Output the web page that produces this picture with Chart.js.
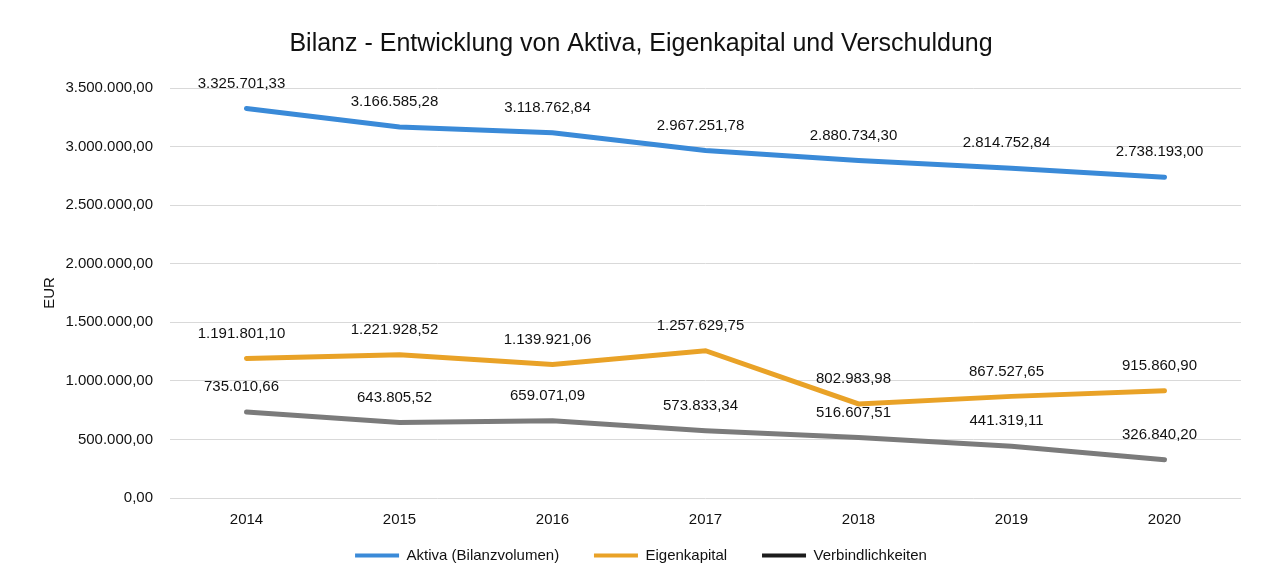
<!DOCTYPE html>
<html lang="de">
<head>
<meta charset="utf-8">
<script src="https://cdn.jsdelivr.net/npm/chart.js@4/dist/chart.umd.min.js"></script>
<style>
    html, body { margin: 0; padding: 0; background: #fff; }
    #wrap { width: 1267px; height: 586px; position: relative; }
</style>
</head>
<body>
<div id="wrap"><canvas id="bilanzChart"></canvas></div>
<script>
// Daten
const jahre = ['2014', '2015', '2016', '2017', '2018', '2019', '2020'];
const aktiva = [3325701.33, 3166585.28, 3118762.84, 2967251.78, 2880734.30, 2814752.84, 2738193.00];
const eigenkapital = [1191801.10, 1221928.52, 1139921.06, 1257629.75, 802983.98, 867527.65, 915860.90];
const verbindlichkeiten = [735010.66, 643805.52, 659071.09, 573833.34, 516607.51, 441319.11, 326840.20];

const schrift = '"Liberation Sans", Arial, sans-serif';
const fmt = v => v.toLocaleString('de-DE', { minimumFractionDigits: 2, maximumFractionDigits: 2 });

// Beschriftung der Datenpunkte
const wertePlugin = {
    id: 'werte',
    afterDatasetsDraw(chart) {
        const ctx = chart.ctx;
        ctx.save();
        ctx.font = '15px ' + schrift;
        ctx.fillStyle = '#111';
        ctx.textAlign = 'center';
        ctx.textBaseline = 'middle';
        chart.data.datasets.forEach((ds, i) => {
            chart.getDatasetMeta(i).data.forEach((pt, j) => {
                ctx.fillText(fmt(ds.data[j]), pt.x - 5, pt.y - 25);
            });
        });
        ctx.restore();
    }
};

const ctx = document.getElementById('bilanzChart');

new Chart(ctx, {
    type: 'line',
    data: {
        labels: jahre,
        datasets: [{
            label: 'Aktiva (Bilanzvolumen)',
            data: aktiva,
            borderColor: '#3a8ad8',
            backgroundColor: '#3a8ad8'
        }, {
            label: 'Eigenkapital',
            data: eigenkapital,
            borderColor: '#e9a227',
            backgroundColor: '#e9a227'
        }, {
            label: 'Verbindlichkeiten',
            data: verbindlichkeiten,
            borderColor: '#7b7b7b',
            backgroundColor: '#1c1c1c'
        }]
    },
    options: {
        responsive: true,
        maintainAspectRatio: false,
        animation: false,
        elements: {
            line: { borderWidth: 5, tension: 0, borderCapStyle: 'round' },
            point: { radius: 0, hoverRadius: 0 }
        },
        layout: { padding: { left: 41, right: 26, top: 0, bottom: 13 } },
        plugins: {
            title: {
                display: true,
                text: 'Bilanz - Entwicklung von Aktiva, Eigenkapital und Verschuldung',
                color: '#111',
                font: { size: 25, weight: 'normal', family: schrift },
                padding: { top: 29, bottom: 29 }
            },
            legend: {
                position: 'bottom',
                labels: {
                    color: '#111',
                    boxWidth: 44,
                    boxHeight: 4,
                    padding: 14,
                    font: { size: 15, family: schrift },
                    // etwas mehr Abstand zwischen den Einträgen
                    generateLabels: chart => Chart.defaults.plugins.legend.labels.generateLabels(chart)
                        .map((l, i, alle) => ({
                            ...l,
                            lineWidth: 0,
                            text: i < alle.length - 1 ? l.text + '     ' : l.text
                        }))
                }
            },
            tooltip: { enabled: false }
        },
        scales: {
            x: {
                offset: true,
                grid: { display: false },
                border: { display: false },
                ticks: {
                    color: '#111',
                    padding: 5,
                    font: { size: 15, family: schrift }
                }
            },
            y: {
                min: 0,
                max: 3500000,
                afterFit: s => { s.width = 129; },
                border: { display: false },
                grid: { color: '#d9d9d9', drawTicks: false },
                ticks: {
                    stepSize: 500000,
                    padding: 17,
                    color: '#111',
                    font: { size: 15, family: schrift },
                    callback: v => fmt(v)
                },
                title: {
                    display: true,
                    text: 'EUR',
                    color: '#111',
                    font: { size: 15, family: schrift },
                    padding: { top: 0, bottom: 8 }
                }
            }
        }
    },
    plugins: [wertePlugin]
});
</script>
</body>
</html>
